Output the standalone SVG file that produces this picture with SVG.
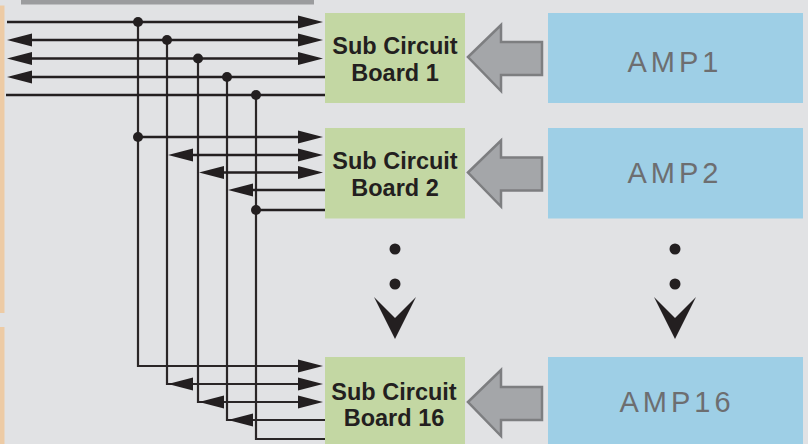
<svg xmlns="http://www.w3.org/2000/svg" xmlns:xlink="http://www.w3.org/1999/xlink" width="808" height="444" viewBox="0 0 808 444">
<style>
.bg{fill:#e1e2e4}
.board{fill:#c3d7a3}
.amp{fill:#9ecfe6}
.bt{font-family:"Liberation Sans",Arial,sans-serif;font-weight:bold;font-size:23.5px;fill:#231f20;text-anchor:middle}
.at{font-family:"Liberation Sans",Arial,sans-serif;font-size:29px;fill:#6d6e70;text-anchor:middle;letter-spacing:4px}
.w{fill:none;stroke:#231f20;stroke-width:2.4}
.v{fill:none;stroke:#2a2627;stroke-width:2.2}
.ah{fill:#231f20}
.blk{fill:#a4a6a9;stroke:#7d7e80;stroke-width:2.5;stroke-linejoin:miter}
.dot{fill:#231f20}
</style>
<defs>
<path id="ar" d="M0,0 L-25,-6.5 L-25,6.5 Z"/>
<path id="al" d="M0,0 L25,-6.5 L25,6.5 Z"/>
<path id="blk" d="M468,57 L501,25 L501,42 L542,42 L542,75 L501,75 L501,91 Z"/>
<path id="chev" d="M-21,0 L0,21 L21,0 L0,42 Z"/>
</defs>
<rect class="bg" x="0" y="0" width="808" height="444"/>
<rect x="21" y="0" width="293" height="4.5" fill="#9b9c9e"/>
<rect x="0" y="5.5" width="4.5" height="307.5" fill="#edcba5"/>
<rect x="0" y="327" width="4.5" height="117" fill="#edcba5"/>

<g id="board1"><rect class="board" x="325" y="13" width="140" height="90"/><text class="bt" x="395" y="53.5">Sub Circuit</text><text class="bt" x="395" y="80.5">Board 1</text></g>
<g id="board2"><rect class="board" x="325" y="128" width="140" height="90.5"/><text class="bt" x="395" y="168.5">Sub Circuit</text><text class="bt" x="395" y="195.5">Board 2</text></g>
<g id="board16"><rect class="board" x="325" y="357" width="140" height="90"/><text class="bt" x="394" y="399.5">Sub Circuit</text><text class="bt" x="394" y="425.5">Board 16</text></g>

<g id="amp1"><rect class="amp" x="548" y="13" width="255" height="90"/><text class="at" x="675" y="72">AMP1</text></g>
<g id="amp2"><rect class="amp" x="548" y="128" width="255" height="90.5"/><text class="at" x="675" y="183">AMP2</text></g>
<g id="amp16"><rect class="amp" x="548" y="357" width="255" height="90"/><text class="at" x="677" y="412">AMP16</text></g>

<g id="connectors">
<!-- block arrows AMP -> board -->
<use xlink:href="#blk" href="#blk" class="blk"/>
<use xlink:href="#blk" href="#blk" class="blk" transform="translate(0,115.5)"/>
<use xlink:href="#blk" href="#blk" class="blk" transform="translate(0,345)"/>

<!-- verticals -->
<path class="v" d="M138,22 V366 H300"/>
<path class="v" d="M167,40 V384 H300"/>
<path class="v" d="M198,58.5 V402 H300"/>
<path class="v" d="M227,77 V420 H325"/>
<path class="v" d="M256,95 V439 H325"/>

<!-- board 1 lines -->
<path class="w" d="M7,22 H300 M28,40 H300 M28,58.5 H300 M28,77 H325 M6,95 H325"/>
<!-- board 2 lines -->
<path class="w" d="M138,137 H300 M180,155 H300 M211,172.5 H300 M240,190 H325 M256,210 H325"/>

<g class="ah">
<use xlink:href="#ar" href="#ar" x="323" y="22"/>
<use xlink:href="#ar" href="#ar" x="323" y="40"/>
<use xlink:href="#ar" href="#ar" x="323" y="58.5"/>
<use xlink:href="#al" href="#al" x="7" y="40"/>
<use xlink:href="#al" href="#al" x="7" y="58.5"/>
<use xlink:href="#al" href="#al" x="7" y="77"/>

<use xlink:href="#ar" href="#ar" x="323" y="137"/>
<use xlink:href="#ar" href="#ar" x="323" y="155"/>
<use xlink:href="#ar" href="#ar" x="323" y="172.5"/>
<use xlink:href="#al" href="#al" x="168" y="155"/>
<use xlink:href="#al" href="#al" x="199" y="172.5"/>
<use xlink:href="#al" href="#al" x="228" y="190"/>

<use xlink:href="#ar" href="#ar" x="323" y="366"/>
<use xlink:href="#ar" href="#ar" x="323" y="384"/>
<use xlink:href="#ar" href="#ar" x="323" y="402"/>
<use xlink:href="#al" href="#al" x="168" y="384"/>
<use xlink:href="#al" href="#al" x="199" y="402"/>
<use xlink:href="#al" href="#al" x="228" y="420"/>
</g>

<g class="dot">
<circle cx="138" cy="22" r="5"/>
<circle cx="167" cy="40" r="5"/>
<circle cx="198" cy="58.5" r="5"/>
<circle cx="227" cy="77" r="5"/>
<circle cx="256" cy="95" r="5"/>
<circle cx="138" cy="137" r="5"/>
<circle cx="256" cy="210" r="5"/>
</g>

<!-- continuation ellipsis -->
<g class="dot">
<circle cx="395" cy="249" r="5.5"/>
<circle cx="395" cy="284" r="5.5"/>
<circle cx="675" cy="249" r="5.5"/>
<circle cx="675" cy="284" r="5.5"/>
<use xlink:href="#chev" href="#chev" x="395" y="297"/>
<use xlink:href="#chev" href="#chev" x="675" y="297"/>
</g>
</g>
</svg>
